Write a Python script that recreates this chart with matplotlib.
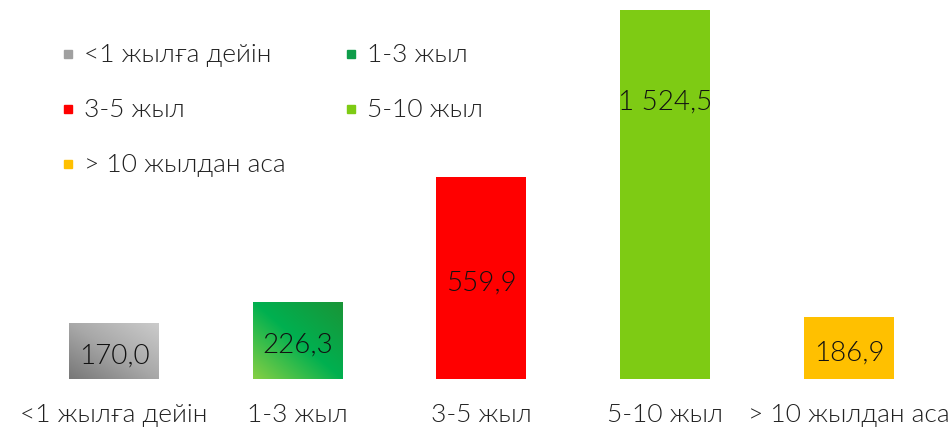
import numpy as np
import matplotlib.pyplot as plt
from matplotlib.colors import LinearSegmentedColormap
from matplotlib.patches import Rectangle

plt.rcParams['font.family'] = ['Lato', 'DejaVu Sans']
plt.rcParams['font.weight'] = 300

categories = ["<1 жылға дейін", "1-3 жыл", "3-5 жыл", "5-10 жыл", "> 10 жылдан аса"]
values = [170.0, 226.3, 559.9, 1524.5, 186.9]
value_labels = ["170,0", "226,3", "559,9", "1 524,5", "186,9"]
colors = ["#a6a6a6", "#00b050", "#ff0000", "#7ecb14", "#ffc000"]
legend_colors = ["#a0a0a0", "#0f9d4a", "#ff0000", "#7ecb14", "#ffc000"]
gradients = {
    0: ["#777777", "#a8a8a8", "#cbcbcb"],
    1: ["#86cf44", "#00b050", "#1a9437"],
}

fig = plt.figure(figsize=(9.53, 4.31), dpi=100)
ax = fig.add_axes([0, 51 / 431, 1, 369 / 431])
ymin, ymax = 20.6, 1006
ax.set_xlim(-114 / 183.75, (953 - 114) / 183.75)
ax.set_ylim(ymin, ymax)
ax.axis('off')

x = np.arange(len(values))
w = 90 / 183.75
bars = ax.bar(x, values, width=w, color=colors)

# diagonal gradient fills for the first two bars
gx, gy = np.meshgrid(np.linspace(0, 1, 100), np.linspace(0, 1, 100))
grad = (gx + gy) / 2
for i, cols in gradients.items():
    cmap = LinearSegmentedColormap.from_list("g%d" % i, cols)
    im = ax.imshow(grad, cmap=cmap, origin='lower', aspect='auto',
                   extent=[x[i] - w / 2, x[i] + w / 2, ymin, values[i]], zorder=2)
    im.set_clip_path(bars[i])
ax.set_xlim(-114 / 183.75, (953 - 114) / 183.75)
ax.set_ylim(ymin, ymax)

for xi, v, lab in zip(x, values, value_labels):
    ax.text(xi, v / 2, lab, ha='center', va='center', fontsize=20,
            color='#111111', zorder=3)

for xi, cat in zip(x, categories):
    ax.text(xi, -35 / 369, cat, transform=ax.get_xaxis_transform(),
            ha='center', va='center', fontsize=19, color='#222222')

# legend
leg_pos = [(68, 55), (351, 55), (68, 110), (351, 110), (68, 165)]
for (px, py), cat, c in zip(leg_pos, categories, legend_colors):
    fig.add_artist(Rectangle(((px - 4) / 953, 1 - (py + 4) / 431), 8 / 953, 8 / 431,
                             transform=fig.transFigure, color=c))
    fig.text((px + 16) / 953, 1 - py / 431, cat, ha='left', va='center',
             fontsize=19, color='#222222')

fig.savefig("out.png", dpi=100)
